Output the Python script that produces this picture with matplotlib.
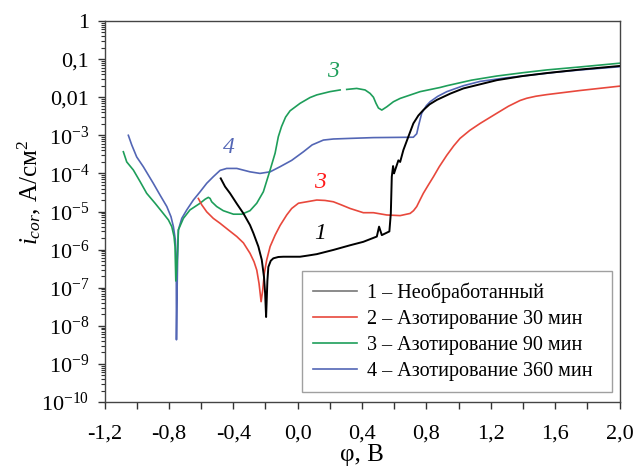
import numpy as np
import matplotlib
matplotlib.use('Agg')
import matplotlib.pyplot as plt
from matplotlib.ticker import FixedLocator, FixedFormatter, LogLocator, NullFormatter, MultipleLocator

# Curve 1 - untreated
phi_1 = [-0.478, -0.451, -0.420, -0.378, -0.337, -0.296, -0.275, -0.244, -0.223, -0.209,
         -0.202, -0.196, -0.188, -0.182, -0.167, -0.151, -0.120, -0.089, 0.015, 0.066,
         0.119, 0.222, 0.326, 0.408, 0.492, 0.506, 0.523, 0.570, 0.579, 0.585, 0.593,
         0.599, 0.606, 0.626, 0.637, 0.657, 0.688, 0.719, 0.750, 0.781, 0.820, 0.865,
         0.950, 1.030, 1.238, 1.400, 1.548, 1.750, 2.000]
i_1 = [7.4e-5, 4.5e-5, 3.0e-5, 1.6e-5, 8.9e-6, 4.4e-6, 2.7e-6, 1.2e-6, 5.4e-7, 1.9e-7,
       7.1e-8, 1.7e-8, 1.5e-7, 3.5e-7, 5.1e-7, 5.9e-7, 6.4e-7, 6.5e-7, 6.5e-7, 7.0e-7,
       7.6e-7, 9.8e-7, 1.3e-6, 1.6e-6, 2.2e-6, 4.0e-6, 2.4e-6, 3.0e-6, 8.9e-6, 8.2e-5, 1.56e-4,
       1.0e-4, 1.23e-4, 2.2e-4, 2.0e-4, 4.1e-4, 9.2e-4, 2.05e-3, 3.3e-3, 4.6e-3, 6.5e-3, 8.5e-3,
       1.25e-2, 1.7e-2, 2.8e-2, 3.6e-2, 4.3e-2, 5.3e-2, 6.6e-2]

# Curve 2 - nitriding 30 min
phi_2 = [-0.617, -0.596, -0.565, -0.524, -0.482, -0.431, -0.378, -0.337, -0.296, -0.271,
         -0.254, -0.240, -0.227, -0.217, -0.207, -0.192, -0.171, -0.140, -0.109, -0.068,
         -0.037, 0.005, 0.057, 0.119, 0.170, 0.222, 0.270, 0.326, 0.408, 0.471, 0.554,
         0.637, 0.699, 0.720, 0.740, 0.760, 0.781, 0.810, 0.844, 0.880, 0.927, 0.970,
         1.009, 1.070, 1.134, 1.238, 1.310, 1.382, 1.424, 1.480, 1.548, 1.755, 2.000]
i_2 = [2.2e-5, 1.5e-5, 9.8e-6, 6.6e-6, 4.9e-6, 3.3e-6, 2.2e-6, 1.5e-6, 8.0e-7, 4.8e-7,
       2.9e-7, 1.3e-7, 4.3e-8, 8.7e-8, 2.4e-7, 5.4e-7, 1.2e-6, 2.4e-6, 4.3e-6, 8.1e-6,
       1.2e-5, 1.65e-5, 1.8e-5, 2.0e-5, 1.95e-5, 1.8e-5, 1.5e-5, 1.2e-5, 9.3e-6, 9.3e-6, 8.1e-6,
       7.8e-6, 8.9e-6, 1.05e-5, 1.35e-5, 2.0e-5, 3.0e-5, 4.8e-5, 8.2e-5, 1.5e-4, 3.0e-4, 5.3e-4,
       8.3e-4, 1.35e-3, 2.05e-3, 3.8e-3, 5.8e-3, 8.2e-3, 9.4e-3, 1.06e-2, 1.17e-2, 1.5e-2, 1.95e-2]

# Curve 3 - nitriding 90 min (small gap in the record near 0.28 V)
phi_3 = [-1.083, -1.062, -1.021, -0.979, -0.938, -0.886, -0.835, -0.803, -0.782, -0.768,
         -0.762, -0.757, -0.749, -0.741, -0.710, -0.669, -0.606, -0.575, -0.555, -0.544,
         -0.534, -0.503, -0.462, -0.399, -0.347, -0.296, -0.254, -0.213, -0.171, -0.140,
         -0.120, -0.100, -0.075, -0.047, 0.015, 0.077, 0.119, 0.201, 0.264, 0.285, 0.305,
         0.367, 0.419, 0.450, 0.471, 0.487, 0.502, 0.523, 0.554, 0.595, 0.637, 0.761,
         0.885, 0.927, 1.080, 1.238, 1.400, 1.548, 1.750, 2.000]
i_3 = [3.7e-4, 2.0e-4, 1.23e-4, 6.1e-5, 3.0e-5, 1.65e-5, 8.9e-6, 6.0e-6, 4.0e-6, 2.2e-6,
       1.2e-6, 1.5e-7, 4.7e-7, 3.3e-6, 6.6e-6, 1.1e-5, 1.65e-5, 2.1e-5, 2.35e-5, 2.2e-5,
       1.8e-5, 1.35e-5, 1.05e-5, 8.5e-6, 8.5e-6, 1.05e-5, 1.65e-5, 3.3e-5, 1.23e-4, 3.4e-4,
       9.2e-4, 1.7e-3, 3.0e-3, 4.4e-3, 6.9e-3, 9.8e-3, 1.15e-2, 1.4e-2, 1.55e-2, np.nan, 1.6e-2,
       1.7e-2, 1.55e-2, 1.26e-2, 1.0e-2, 6.9e-3, 5.2e-3, 4.6e-3, 5.6e-3, 7.6e-3, 9.3e-3, 1.4e-2,
       1.8e-2, 2.0e-2, 2.8e-2, 3.6e-2, 4.4e-2, 5.2e-2, 6.2e-2, 7.8e-2]

# Curve 4 - nitriding 360 min
phi_4 = [-1.052, -1.031, -1.000, -0.959, -0.897, -0.855, -0.813, -0.787, -0.772, -0.760,
         -0.756, -0.754, -0.753, -0.749, -0.746, -0.741, -0.720, -0.689, -0.648, -0.606,
         -0.565, -0.524, -0.482, -0.441, -0.378, -0.296, -0.234, -0.171, -0.109, -0.037,
         0.036, 0.090, 0.160, 0.222, 0.326, 0.471, 0.719, 0.740, 0.750, 0.771, 0.800,
         0.823, 0.870, 0.927, 1.030, 1.134, 1.290, 1.445, 1.600, 1.755, 2.000]
i_4 = [1.0e-3, 5.6e-4, 2.7e-4, 1.5e-4, 5.5e-5, 2.7e-5, 1.35e-5, 7.3e-6, 4.0e-6, 1.8e-6,
       8.1e-7, 1.6e-7, 4.3e-9, 8.7e-8, 5.4e-7, 3.3e-6, 6.6e-6, 1.1e-5, 2.0e-5, 3.3e-5,
       5.5e-5, 8.2e-5, 1.2e-4, 1.35e-4, 1.35e-4, 1.1e-4, 1.0e-4, 1.1e-4, 1.5e-4, 2.2e-4,
       3.7e-4, 5.6e-4, 7.5e-4, 8.0e-4, 8.3e-4, 8.7e-4, 8.9e-4, 1.1e-3, 1.7e-3, 3.8e-3, 6.0e-3,
       7.6e-3, 1.05e-2, 1.4e-2, 2.0e-2, 2.6e-2, 3.2e-2, 3.8e-2, 4.5e-2, 5.2e-2, 6.3e-2]

legend_labels = ['1 – Необработанный', '2 – Азотирование 30 мин',
                 '3 – Азотирование 90 мин', '4 – Азотирование 360 мин']

x_ticks = [-1.2, -0.8, -0.4, 0.0, 0.4, 0.8, 1.2, 1.6, 2.0]
x_tick_labels = ['-1,2', '-0,8', '-0,4', '0,0', '0,4', '0,8', '1,2', '1,6', '2,0']
y_ticks = [1e-10, 1e-9, 1e-8, 1e-7, 1e-6, 1e-5, 1e-4, 1e-3, 1e-2, 1e-1, 1]
y_tick_labels = ['$10^{-10}$', '$10^{-9}$', '$10^{-8}$', '$10^{-7}$', '$10^{-6}$',
                 '$10^{-5}$', '$10^{-4}$', '$10^{-3}$', '0,01', '0,1', '1']

plt.rcParams.update({
    'font.family': ['Liberation Serif', 'DejaVu Serif'],
    'mathtext.fontset': 'custom',
    'mathtext.rm': 'Liberation Serif',
    'mathtext.it': 'Liberation Serif:italic',
    'mathtext.default': 'rm',
})

c_black = '#000000'
c_red = '#E8483C'
c_green = '#1E9E5A'
c_blue = '#5366B5'

fig = plt.figure(figsize=(6.35, 4.7), dpi=100)
ax = fig.add_axes([0.1646, 0.1447, 0.8110, 0.8106])

ax.plot(phi_4, i_4, color=c_blue, lw=1.2)
ax.plot(phi_3, i_3, color=c_green, lw=1.2)
ax.plot(phi_2, i_2, color=c_red, lw=1.2)
ax.plot(phi_1, i_1, color=c_black, lw=1.4)

ax.set_yscale('log')
ax.set_xlim(-1.2, 2.0)
ax.set_ylim(1e-10, 1)

ax.xaxis.set_major_locator(FixedLocator(x_ticks))
ax.xaxis.set_major_formatter(FixedFormatter(x_tick_labels))
ax.xaxis.set_minor_locator(MultipleLocator(0.2))
ax.yaxis.set_major_locator(FixedLocator(y_ticks))
ax.yaxis.set_major_formatter(FixedFormatter(y_tick_labels))
ax.yaxis.set_minor_locator(LogLocator(base=10, subs=np.arange(2, 10), numticks=20))
ax.yaxis.set_minor_formatter(NullFormatter())

ax.tick_params(axis='both', which='major', direction='out', labelsize=16, length=5, width=1, color='#333333')
ax.tick_params(axis='x', which='major', pad=11)
ax.tick_params(axis='y', which='major', pad=6)
ax.tick_params(axis='x', which='minor', direction='out', length=5, width=1, color='#333333')
ax.tick_params(axis='y', which='minor', direction='out', length=3, width=0.8, color='#333333')
ax.tick_params(top=False, right=False, which='both')
for s in ax.spines.values():
    s.set_color('#444444')
    s.set_linewidth(1)

ax.set_xlabel('φ, В', fontsize=18)
ax.set_ylabel(r'$\mathit{i}_{\mathit{cor}}$, А/см$^2$', fontsize=18)
ax.xaxis.set_label_coords(0.5, -0.11)
ax.yaxis.set_label_coords(-0.12, 0.55)

# curve number marks
ax.text(0.22, 0.046, '3', color=c_green, fontsize=17, style='italic', ha='center', va='center')
ax.text(-0.43, 4.9e-4, '4', color=c_blue, fontsize=17, style='italic', ha='center', va='center')
ax.text(0.14, 5.9e-5, '3', color='#FF1A1A', fontsize=17, style='italic', ha='center', va='center')
ax.text(0.14, 2.7e-6, '1', color=c_black, fontsize=17, style='italic', ha='center', va='center')

handles = [plt.Line2D([], [], color=c, lw=1.2) for c in ['#777777', c_red, c_green, c_blue]]
leg = ax.legend(handles, legend_labels, loc='lower left', bbox_to_anchor=(0.383, 0.026, 0.602, 0.315),
                mode='expand', fontsize=14.5, frameon=True, fancybox=False, edgecolor='#888888',
                handlelength=2.2, handletextpad=0.5, labelspacing=0.35, borderpad=0.55,
                borderaxespad=0)
leg.get_frame().set_linewidth(1)

fig.savefig('out.png', dpi=100)
